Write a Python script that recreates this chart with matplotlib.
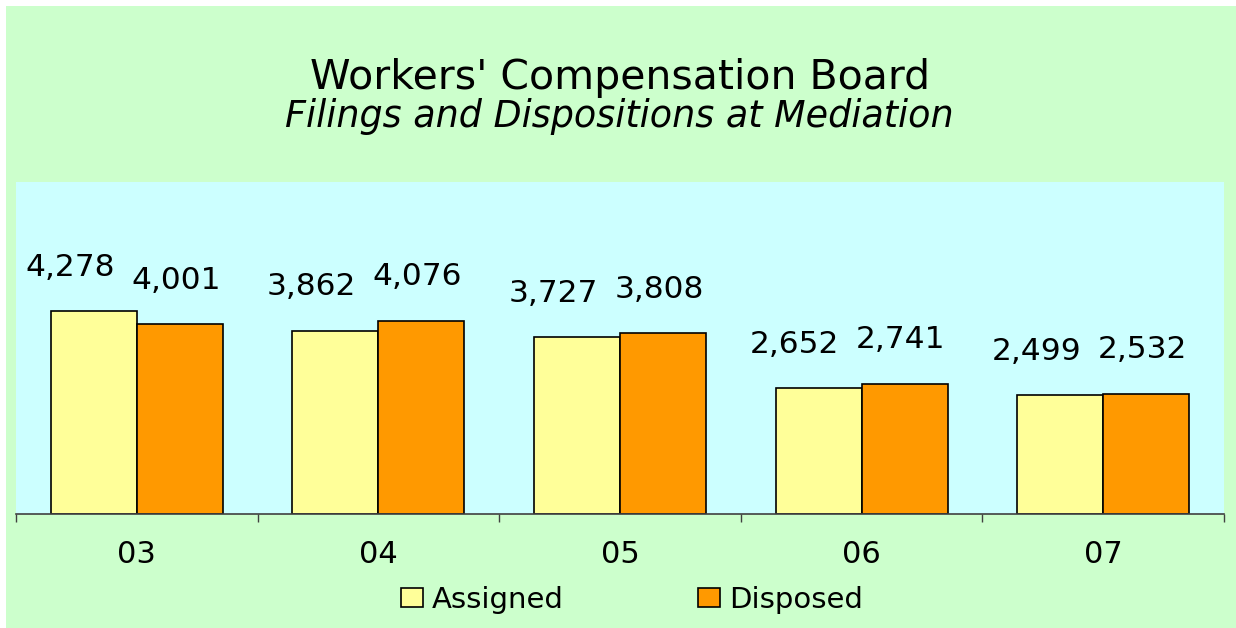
import numpy as np
import matplotlib
matplotlib.use("Agg")
import matplotlib.pyplot as plt
from matplotlib.patches import Rectangle, Patch

# data
years = ["03", "04", "05", "06", "07"]
assigned = [4278, 3862, 3727, 2652, 2499]
disposed = [4001, 4076, 3808, 2741, 2532]

W, H = 1236, 628
fig = plt.figure(figsize=(W / 100, H / 100), dpi=100, facecolor="white")

# green chart area with a thin white margin on top/left
fig.patches.append(Rectangle((6 / W, 0), 1 - 6 / W, 1 - 6 / H,
                             transform=fig.transFigure, facecolor="#CCFFCC",
                             edgecolor="none", zorder=-10))

ax = fig.add_axes([16 / W, (H - 514) / H, 1208 / W, 332 / H])
ax.set_facecolor("#CCFFFF")

x = np.arange(len(years))
w = 0.356
b1 = ax.bar(x - w / 2, assigned, w, color="#FFFF99", edgecolor="black", linewidth=1.2)
b2 = ax.bar(x + w / 2, disposed, w, color="#FF9900", edgecolor="black", linewidth=1.2)

for bars, vals, dx in [(b1, assigned, -24), (b2, disposed, -4)]:
    for r, v in zip(bars, vals):
        ax.annotate(f"{v:,}", (r.get_x() + r.get_width() / 2, v),
                    xytext=(dx, 44), textcoords="offset pixels",
                    ha="center", va="center", fontsize=22.5, color="black")

ax.set_xlim(-0.5, len(years) - 0.5)
ax.set_ylim(0, 7000)
ax.set_yticks([])
for s in ["top", "right", "left"]:
    ax.spines[s].set_visible(False)
ax.spines["bottom"].set_color("#404040")
ax.spines["bottom"].set_linewidth(1.2)

ax.set_xticks(x)
ax.set_xticklabels(years, fontsize=22)
ax.tick_params(axis="x", which="major", length=0, pad=19)
ax.set_xticks(np.arange(-0.5, len(years)), minor=True)
ax.tick_params(axis="x", which="minor", length=6, width=1, color="#404040", direction="out")

fig.text(620 / W, 1 - 89 / H, "Workers' Compensation Board", ha="center",
         va="baseline", fontsize=29.5)
fig.text(619 / W, 1 - 127 / H, "Filings and Dispositions at Mediation", ha="center",
         va="baseline", fontsize=26.3, style="italic")

handles = [Patch(facecolor="#FFFF99", edgecolor="black", linewidth=1.2, label="Assigned"),
           Patch(facecolor="#FF9900", edgecolor="black", linewidth=1.2, label="Disposed")]
fig.legend(handles=handles, loc="center", bbox_to_anchor=(632 / W, 1 - 600 / H),
           ncol=2, frameon=False, fontsize=21, handlelength=0.75, handleheight=0.6,
           handletextpad=0.3, columnspacing=4.6, borderpad=0)

fig.savefig("out.png", dpi=100, facecolor=fig.get_facecolor())
